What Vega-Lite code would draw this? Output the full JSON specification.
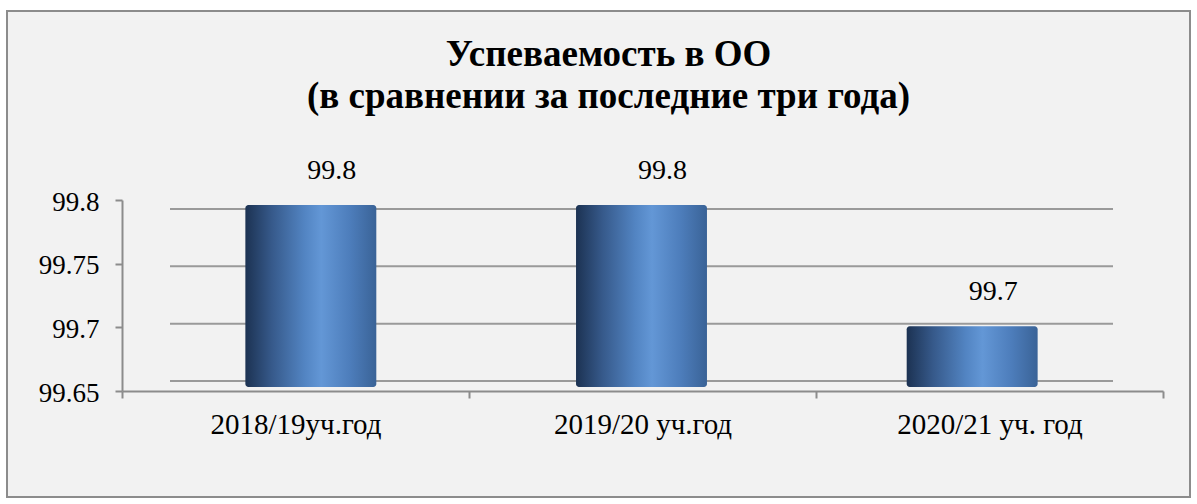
{
  "$schema": "https://vega.github.io/schema/vega-lite/v6.json",
  "width": 1183,
  "height": 486,
  "autosize": "none",
  "padding": {"left": 7, "top": 11, "right": 7, "bottom": 7},
  "background": "white",
  "config": {
    "view": {"fill": "#f2f2f2", "stroke": "#8c8c8c", "strokeWidth": 2},
    "font": "Times New Roman, Liberation Serif, DejaVu Serif, serif"
  },
  "title": {
    "text": ["Успеваемость в ОО", "(в сравнении за последние три года)"],
    "font": "Times New Roman, Liberation Serif, DejaVu Serif, serif",
    "fontSize": 37,
    "fontWeight": "bold",
    "color": "black",
    "anchor": "middle",
    "frame": "group",
    "baseline": "alphabetic",
    "lineHeight": 42,
    "dx": 10,
    "offset": -134
  },
  "datasets": {
    "bars": [
      {"year": "2018/19уч.год", "value": 99.8},
      {"year": "2019/20 уч.год", "value": 99.8},
      {"year": "2020/21 уч. год", "value": 99.7}
    ],
    "ticks": [
      {"v": 99.65},
      {"v": 99.7},
      {"v": 99.75},
      {"v": 99.8}
    ]
  },
  "layer": [
    {
      "data": {"name": "bars"},
      "mark": {"type": "point", "opacity": 0},
      "encoding": {
        "x": {
          "field": "year",
          "type": "nominal",
          "sort": null,
          "scale": {"range": [115, 1156], "paddingInner": 0, "paddingOuter": 0},
          "axis": {
            "title": null,
            "orient": "bottom",
            "offset": -106,
            "tickBand": "extent",
            "labelAngle": 0,
            "labelLimit": 500,
            "labelFont": "Times New Roman, Liberation Serif, DejaVu Serif, serif",
            "labelFontSize": 29,
            "labelColor": "black",
            "labelPadding": 12,
            "tickSize": 7,
            "tickColor": "#8c8c8c",
            "tickWidth": 2,
            "domainColor": "#8c8c8c",
            "domainWidth": 2,
            "grid": false
          }
        },
        "y": {
          "field": "value",
          "type": "quantitative",
          "scale": {"domain": [99.65, 99.8], "range": [380, 189], "zero": false, "nice": false},
          "axis": {
            "title": null,
            "orient": "left",
            "offset": -115,
            "values": [99.65, 99.7, 99.75, 99.8],
            "format": ".2~f",
            "labelFont": "Times New Roman, Liberation Serif, DejaVu Serif, serif",
            "labelFontSize": 27,
            "labelColor": "black",
            "labelPadding": 16,
            "labelOffset": 2,
            "tickSize": 7,
            "tickColor": "#8c8c8c",
            "tickWidth": 2,
            "domainColor": "#8c8c8c",
            "domainWidth": 2,
            "grid": false
          }
        }
      }
    },
    {
      "data": {"name": "ticks"},
      "mark": {"type": "rule", "stroke": "#9a9a9a", "strokeWidth": 2},
      "encoding": {
        "y": {
          "field": "v",
          "type": "quantitative",
          "scale": {"domain": [99.65, 99.8], "range": [370, 198], "zero": false, "nice": false},
          "axis": null
        },
        "x": {
          "datum": 0,
          "type": "quantitative",
          "scale": {"domain": [0, 1], "range": [163, 1106]},
          "axis": null
        },
        "x2": {"datum": 1}
      }
    },
    {
      "data": {"name": "bars"},
      "encoding": {
        "x": {
          "field": "year",
          "type": "nominal",
          "sort": null,
          "scale": {"range": [138.5, 1130.5], "paddingInner": 0.604, "paddingOuter": 0.302},
          "axis": null
        },
        "y": {
          "field": "value",
          "type": "quantitative",
          "scale": {"domain": [99.65, 99.8], "range": [376, 194], "zero": false, "nice": false},
          "axis": null
        }
      },
      "layer": [
        {
          "mark": {
            "type": "bar",
            "cornerRadius": 3,
            "color": {
              "gradient": "linear",
              "x1": 0, "x2": 1, "y1": 0, "y2": 0,
              "stops": [
                {"offset": 0, "color": "#1c3252"},
                {"offset": 0.2, "color": "#36598a"},
                {"offset": 0.45, "color": "#5284c2"},
                {"offset": 0.58, "color": "#6397d6"},
                {"offset": 0.8, "color": "#4d7dbb"},
                {"offset": 1, "color": "#3a6397"}
              ]
            }
          },
          "encoding": {
            "y2": {"datum": 99.65}
          }
        },
        {
          "mark": {
            "type": "text",
            "font": "Times New Roman, Liberation Serif, DejaVu Serif, serif",
            "fontSize": 28,
            "color": "black",
            "baseline": "alphabetic",
            "dx": 21,
            "dy": -26
          },
          "encoding": {
            "text": {"field": "value", "type": "quantitative", "format": ".1f"}
          }
        }
      ]
    }
  ],
  "resolve": {"scale": {"x": "independent", "y": "independent"}}
}
